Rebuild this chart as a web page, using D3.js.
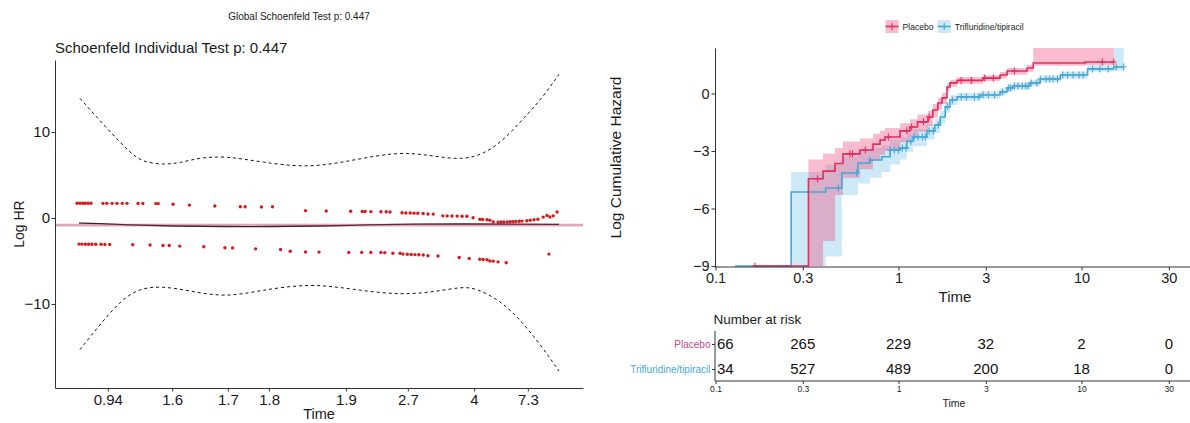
<!DOCTYPE html>
<html><head><meta charset="utf-8">
<script src="https://cdn.jsdelivr.net/npm/d3@7"></script>
<style>
body{margin:0;background:#fff}
text{font-family:"Liberation Sans", Arial, sans-serif}
</style>
</head><body>
<svg id="c" width="1190" height="423"></svg>
<script>
// ================= DATA =================
// Left panel: Schoenfeld residual plot (x = transformed time, 0..100)
const globalTitle = "Global Schoenfeld Test p: 0.447";
const indivTitle = "Schoenfeld Individual Test p: 0.447";
const zphTickLabels = ["0.94","1.6","1.7","1.8","1.9","2.7","4","7.3"];
const zphTickPos = [6.0, 19.4, 31.0, 39.6, 55.6, 68.5, 82.3, 93.5];
const zphYTicks = [-10, 0, 10];
const coefLogHR = -0.82;

const residUpper = [
 [-0.4,1.72],[0.2,1.72],[0.8,1.72],[1.3,1.72],[1.9,1.72],[2.5,1.72],
 [5.0,1.7],[5.8,1.7],[6.9,1.7],[7.9,1.7],[9.0,1.7],[10.0,1.7],
 [12.3,1.68],[13.3,1.68],[16.0,1.67],[16.5,1.67],[19.6,1.6],[23.0,1.5],[28.3,1.4],
 [33.6,1.3],[34.6,1.3],[38.0,1.28],[40.3,1.3],
 [47.2,0.85],[51.5,0.82],[56.6,0.78],[59.0,0.75],[59.6,0.75],[60.8,0.74],[62.9,0.72],[64.0,0.72],[64.8,0.7],
 [67.3,0.6],[68.1,0.58],[69.0,0.58],[69.8,0.56],[70.6,0.55],[71.7,0.52],
 [72.7,0.47],[73.8,0.45],
 [75.8,0.25],[76.7,0.24],[77.7,0.23],[78.8,0.22],[79.8,0.2],[80.8,0.2],
 [82.1,0.02],[83.5,-0.15],[84.1,-0.17],[85.0,-0.2],[85.6,-0.25],[86.3,-0.45],
 [87.3,-0.48],[87.9,-0.47],[88.5,-0.46],[89.2,-0.45],[89.8,-0.44],[90.4,-0.42],[91.0,-0.4],[91.7,-0.38],[92.3,-0.36],[93.3,-0.33],
 [94.0,-0.25],[94.8,-0.2],[95.6,-0.15],[96.7,0.1],[97.5,0.3],[98.1,0.12],[98.8,0.25],[99.6,0.7]
];
const residLower = [
 [0,-3.04],[0.6,-3.04],[1.3,-3.05],[2.0,-3.05],[2.7,-3.05],[3.5,-3.06],[4.6,-3.06],[5.4,-3.07],[6.4,-3.07],
 [11.2,-3.1],[14.8,-3.15],[17.5,-3.2],[18.8,-3.2],[21.0,-3.27],[26.0,-3.35],[30.4,-3.47],[32.0,-3.48],[36.8,-3.59],
 [42.0,-3.66],[44.0,-3.86],[47.2,-3.95],[50.0,-3.97],[56.2,-4.0],[58.9,-4.0],[60.8,-4.0],[62.9,-4.02],[63.7,-4.03],
 [65.4,-4.1],[66.9,-4.1],[67.5,-4.2],[68.4,-4.22],[69.2,-4.24],[70.0,-4.26],[70.8,-4.28],[71.7,-4.3],[72.7,-4.4],
 [74.8,-4.42],[79.2,-4.6],[81.3,-4.7],[83.5,-4.8],[84.2,-4.82],[85.0,-4.85],[85.6,-5.0],[86.3,-5.02],[87.3,-5.1],
 [89.0,-5.2],[97.9,-4.2]
];
const fitCurve = [[0,-0.6],[4,-0.65],[10,-0.8],[20,-0.95],[30,-1.0],[40,-1.0],[50,-0.95],[60,-0.8],[70,-0.7],[80,-0.7],[90,-0.7],[100,-0.75]];
const upperBand = [[0.2,13.9],[6.5,10.0],[10.6,7.6],[13.3,6.5],[17.5,6.2],[21,6.4],[25,7.0],[30.6,7.2],[38,6.5],[47.7,5.8],[57,6.7],[66.3,7.7],[73,7.3],[79.8,6.7],[84.6,7.5],[88.5,9.1],[92.5,11.5],[96.3,13.8],[100,16.7]];
const lowerBand = [[0.2,-15.3],[7.5,-10.2],[12,-8.2],[17.5,-7.9],[24,-8.6],[30.8,-9.2],[38,-8.4],[48.3,-7.6],[57,-8.3],[67.3,-9.0],[75,-8.5],[79.8,-8.0],[82.9,-8.2],[87.7,-9.6],[91.7,-11.7],[96,-14.6],[100,-17.8]];

// Right panel: log cumulative hazard
const seriesNames = ["Placebo", "Trifluridine/tipiracil"];
const placeboTime = [0.164,0.322,0.387,0.45,0.497,0.616,0.726,0.793,0.844,1.02,1.155,1.27,1.45,1.54,1.64,1.73,1.84,1.91,2.09,2.89,3.59,3.92,5.04,5.45,10.45,15.0];
const placeboEst  = [-9,-4.45,-4.05,-3.65,-3.15,-2.95,-2.64,-2.43,-2.27,-1.95,-1.75,-1.48,-1.23,-0.86,-0.5,-0.23,0.34,0.55,0.68,0.8,0.96,1.17,1.33,1.59,1.64,1.64];
const placeboLow  = [-9,-9,-7.7,-5.3,-4.4,-3.95,-3.5,-3.2,-3.0,-2.55,-2.3,-2.0,-1.7,-1.25,-0.85,-0.55,0.12,0.35,0.5,0.63,0.78,0.98,1.13,1.45,1.48,1.48];
const placeboHigh = [-9,-3.45,-3.15,-2.85,-2.5,-2.35,-2.1,-1.95,-1.8,-1.55,-1.35,-1.1,-0.9,-0.55,-0.22,0.02,0.52,0.72,0.84,0.95,1.12,1.33,1.5,2.6,2.6,2.6];
const placeboCensor = [0.164,0.361,0.543,0.56,0.66,0.88,1.11,1.18,1.37,1.47,2.2,2.5,2.96,3.3,4.3,13.0,15.0];

const trifluTime = [0.128,0.259,0.40,0.49,0.60,0.70,0.81,0.90,1.02,1.11,1.2,1.43,1.58,1.69,1.8,1.91,2.09,2.78,3.59,3.92,4.23,5.24,5.95,7.66,10.8,15.0,17.0];
const trifluEst  = [-9,-5.14,-4.93,-4.15,-3.63,-3.47,-3.3,-2.95,-2.85,-2.5,-2.27,-1.96,-1.65,-1.23,-0.7,-0.34,-0.18,-0.08,0.08,0.29,0.39,0.55,0.75,0.96,1.28,1.38,1.38];
const trifluLow  = [-9,-9,-8.5,-5.3,-4.7,-4.4,-4.1,-3.7,-3.45,-3.05,-2.75,-2.4,-2.05,-1.6,-1.0,-0.6,-0.38,-0.27,-0.1,0.12,0.22,0.38,0.58,0.78,1.13,1.2,1.2];
const trifluHigh = [-9,-4.1,-3.7,-3.3,-3.0,-2.85,-2.7,-2.4,-2.3,-2.05,-1.85,-1.6,-1.3,-0.92,-0.45,-0.1,0.02,0.12,0.26,0.46,0.56,0.72,0.92,1.14,1.47,2.6,2.6];
const trifluCensor = [0.47,0.59,0.7,0.9,0.95,1.0,1.05,1.1,1.17,1.22,1.28,1.35,1.4,1.47,1.55,1.65,1.85,1.97,2.2,2.35,2.6,2.75,2.9,3.1,3.35,3.7,4.0,4.1,4.3,4.5,4.75,4.95,5.1,5.3,5.7,5.95,6.4,6.7,7.0,7.4,7.9,8.4,9.0,9.7,10.2,11.5,12.6,14.0,15.5,17.0];

const hazTicksX = [0.1, 0.3, 1, 3, 10, 30];
const hazTicksY = [-9, -6, -3, 0];
const riskTimes = [0.1, 0.3, 1, 3, 10, 30];
const riskPlacebo = [66, 265, 229, 32, 2, 0];
const riskTriflu  = [34, 527, 489, 200, 18, 0];

// ================= DRAW =================
const svg = d3.select("#c");
const axisCol = "#333", textCol = "#1a1a1a";
function styleAxis(g, fs){
  g.selectAll(".domain").attr("stroke", axisCol).attr("stroke-width", 1);
  g.selectAll(".tick line").attr("stroke", axisCol);
  g.selectAll(".tick text").attr("fill", textCol).attr("font-size", fs).attr("font-family", '"Liberation Sans", Arial, sans-serif');
}

// ---------- LEFT PANEL ----------
const L = {x0:55, x1:583, y0:60, y1:388};
const xL = d3.scaleLinear().domain([-5, 105]).range([L.x0, L.x1]);
const yL = d3.scaleLinear().domain([-19.77, 18.37]).range([L.y1, L.y0]);

svg.append("text").attr("x", 299).attr("y", 20).attr("text-anchor","middle")
  .attr("font-size", 10).attr("fill", textCol).text(globalTitle);
svg.append("text").attr("x", 55).attr("y", 52.5)
  .attr("font-size", 15).attr("fill", textCol).text(indivTitle);

const gL = svg.append("g");
const lineL = d3.line().x(d=>xL(d[0])).y(d=>yL(d[1])).curve(d3.curveBasis);
gL.append("path").datum(upperBand).attr("d", lineL).attr("fill","none").attr("stroke","#111").attr("stroke-width",1).attr("stroke-dasharray","3,3");
gL.append("path").datum(lowerBand).attr("d", lineL).attr("fill","none").attr("stroke","#111").attr("stroke-width",1).attr("stroke-dasharray","3,3");
gL.selectAll("circle.u").data(residUpper.concat(residLower)).join("circle")
  .attr("cx", d=>xL(d[0])).attr("cy", d=>yL(d[1])).attr("r", 1.7).attr("fill", "#d7191c");
gL.append("path").datum(fitCurve).attr("d", lineL).attr("fill","none").attr("stroke","#222").attr("stroke-width",1.3);
gL.append("line").attr("x1", L.x0).attr("x2", L.x1).attr("y1", yL(coefLogHR)).attr("y2", yL(coefLogHR))
  .attr("stroke","#b03050").attr("stroke-opacity",0.42).attr("stroke-width",2.8);

const axLy = svg.append("g").attr("transform",`translate(${L.x0},0)`)
  .call(d3.axisLeft(yL).tickValues(zphYTicks).tickSize(3.5).tickSizeOuter(0).tickPadding(1.5).tickFormat(d3.format("d")));
styleAxis(axLy, 15);
const axLx = svg.append("g").attr("transform",`translate(0,${L.y1})`)
  .call(d3.axisBottom(xL).tickValues(zphTickPos).tickSize(3.5).tickSizeOuter(0).tickPadding(3).tickFormat((d,i)=>zphTickLabels[i]));
styleAxis(axLx, 15);
svg.append("text").attr("x", (L.x0+L.x1)/2).attr("y", 419).attr("text-anchor","middle")
  .attr("font-size", 14.5).attr("fill", textCol).text("Time");
svg.append("text").attr("transform",`translate(23.5,${(L.y0+L.y1)/2}) rotate(-90)`).attr("text-anchor","middle")
  .attr("font-size", 14).attr("fill", textCol).text("Log HR");

// ---------- RIGHT PANEL ----------
const R = {x0:715, x1:1190, y0:48, y1:267};
const xR = d3.scaleLog().domain([0.1, 30]).range([715.5, 1168.8]);
const yR = d3.scaleLinear().domain([-9.05, 2.37]).range([R.y1, R.y0]);
const colRed = "#e02d5e", colBlue = "#47a6d8";
const fillRed = "#f0507f", fillBlue = "#5ab4e2";

svg.append("clipPath").attr("id","clipR").append("rect")
  .attr("x", R.x0).attr("y", R.y0).attr("width", R.x1-R.x0).attr("height", R.y1-R.y0);
const gR = svg.append("g").attr("clip-path","url(#clipR)");

const series = [
  {name: seriesNames[1], time: trifluTime, est: trifluEst, lo: trifluLow, hi: trifluHigh, cens: trifluCensor, col: colBlue, fill: fillBlue, fo: 0.3},
  {name: seriesNames[0], time: placeboTime, est: placeboEst, lo: placeboLow, hi: placeboHigh, cens: placeboCensor, col: colRed, fill: fillRed, fo: 0.38}
];
const area = d3.area().x(d=>xR(d.t)).y0(d=>yR(d.lo)).y1(d=>yR(d.hi)).curve(d3.curveStepAfter);
const stepLine = d3.line().x(d=>xR(d.t)).y(d=>yR(d.v)).curve(d3.curveStepAfter);
series.forEach(s=>{
  const pts = s.time.map((t,i)=>({t, lo: s.lo[i], hi: s.hi[i]}));
  gR.append("path").datum(pts).attr("d", area).attr("fill", s.fill).attr("fill-opacity", s.fo).attr("stroke","none");
});
function valueAt(s, t){
  let v = s.est[0];
  for (let i=0;i<s.time.length;i++){ if (s.time[i] <= t + 1e-9) v = s.est[i]; }
  return v;
}
series.forEach(s=>{
  const pts = s.time.map((t,i)=>({t, v: s.est[i]}));
  gR.append("path").datum(pts).attr("d", stepLine).attr("fill","none").attr("stroke", s.col).attr("stroke-width",1.6);
  gR.selectAll(null).data(s.cens).join("path")
    .attr("d", t=>{ const x = xR(t), y = yR(valueAt(s,t)); return `M${x-3},${y}H${x+3}M${x},${y-3.5}V${y+3.5}`; })
    .attr("stroke", s.col).attr("stroke-width", 1.1).attr("fill","none");
});

// axes
svg.append("line").attr("x1", R.x0).attr("x2", R.x1).attr("y1", R.y1).attr("y2", R.y1).attr("stroke", axisCol);
const axRx = svg.append("g").attr("transform",`translate(0,${R.y1})`)
  .call(d3.axisBottom(xR).tickValues(hazTicksX).tickSize(3.5).tickSizeOuter(0).tickPadding(2).tickFormat(d3.format("~g")));
axRx.select(".domain").remove();
styleAxis(axRx, 14.5);
const axRy = svg.append("g").attr("transform",`translate(${R.x0},0)`)
  .call(d3.axisLeft(yR).tickValues(hazTicksY).tickSize(3.5).tickSizeOuter(0).tickPadding(2).tickFormat(d3.format("d")));
styleAxis(axRy, 14.5);
svg.append("text").attr("x", 955).attr("y", 302).attr("text-anchor","middle")
  .attr("font-size", 15).attr("fill", textCol).text("Time");
svg.append("text").attr("transform",`translate(621,${(R.y0+R.y1)/2}) rotate(-90)`).attr("text-anchor","middle")
  .attr("font-size", 15.5).attr("fill", textCol).text("Log Cumulative Hazard");

// legend
const legX = [885.5, 937.7];
[series[1], series[0]].forEach((s,i)=>{
  const g = svg.append("g").attr("transform",`translate(${legX[i]},20)`);
  g.append("rect").attr("width",13).attr("height",13).attr("fill", s.fill).attr("fill-opacity", s.fo);
  g.append("line").attr("x1",0).attr("x2",13).attr("y1",6.5).attr("y2",6.5).attr("stroke", s.col).attr("stroke-width",1.6);
  g.append("path").attr("d","M3.5,6.5H9.5M6.5,3V10").attr("stroke", s.col).attr("stroke-width",1.1);
  g.append("text").attr("x",17).attr("y",9.6).attr("font-size",8.6).attr("fill", textCol).text(s.name);
});

// risk table
svg.append("text").attr("x", 713.5).attr("y", 324).attr("font-size", 13.5).attr("fill", textCol).text("Number at risk");
const RT = {x0:715, x1:1190, y0:331, y1:381};
const yRows = d3.scalePoint().domain(seriesNames).range([344, 369]);
const xRisk = d3.scaleLog().domain([0.1, 30]).range([715.5, 1168.8]);
svg.append("line").attr("x1", RT.x0).attr("x2", RT.x1).attr("y1", RT.y1).attr("y2", RT.y1).attr("stroke", axisCol);
svg.append("line").attr("x1", RT.x0).attr("x2", RT.x0).attr("y1", RT.y0).attr("y2", RT.y1).attr("stroke", axisCol);
const axRTx = svg.append("g").attr("transform",`translate(0,${RT.y1})`)
  .call(d3.axisBottom(xRisk).tickValues(riskTimes).tickSize(3).tickSizeOuter(0).tickPadding(1.5).tickFormat(d3.format("~g")));
axRTx.select(".domain").remove();
styleAxis(axRTx, 8.5);
const axRTy = svg.append("g").attr("transform",`translate(${RT.x0},0)`)
  .call(d3.axisLeft(yRows).tickSize(3).tickSizeOuter(0).tickPadding(1.5));
axRTy.select(".domain").remove();
styleAxis(axRTy, 10);
const rowCols = {"Placebo":"#c64b7f", "Trifluridine/tipiracil":"#4aa9d2"};
axRTy.selectAll(".tick text").attr("fill", d=>rowCols[d]);
svg.append("text").attr("x", 954).attr("y", 407).attr("text-anchor","middle")
  .attr("font-size", 10.5).attr("fill", textCol).text("Time");
[[seriesNames[0], riskPlacebo],[seriesNames[1], riskTriflu]].forEach(([nm, arr])=>{
  svg.selectAll(null).data(arr).join("text")
    .attr("x", (d,i)=> xRisk(riskTimes[i]) + (i===0 ? 1.5 : 0))
    .attr("text-anchor", (d,i)=> i===0 ? "start" : "middle")
    .attr("y", yRows(nm)).attr("dy","0.36em")
    .attr("font-size", 15).attr("fill", "#111").text(d=>d);
});
</script>
</body></html>
